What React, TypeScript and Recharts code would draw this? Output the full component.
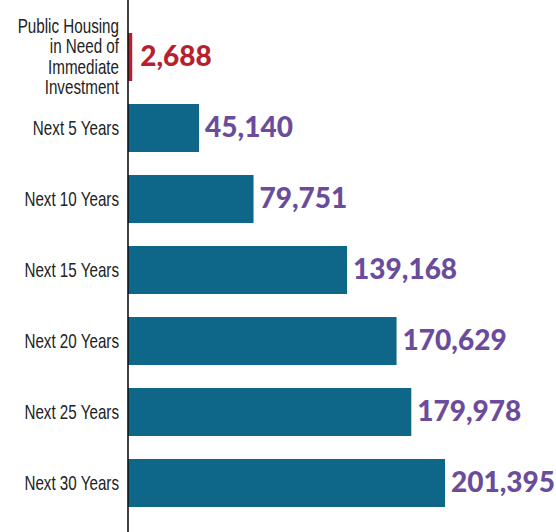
import React from 'react';
import { BarChart, Bar, XAxis, YAxis, Cell, LabelList } from 'recharts';

const categories = [
  'Public Housing in Need of Immediate Investment',
  'Next 5 Years',
  'Next 10 Years',
  'Next 15 Years',
  'Next 20 Years',
  'Next 25 Years',
  'Next 30 Years',
];
const values = [2688, 45140, 79751, 139168, 170629, 179978, 201395];
const tickLines: Record<string, string[]> = {
  'Public Housing in Need of Immediate Investment': ['Public Housing', 'in Need of', 'Immediate', 'Investment'],
};

const data = categories.map((c, i) => ({ name: c, value: values[i] }));

const RED = '#b6202f';
const TEAL = '#0e6688';
const PURPLE = '#6b4c9c';
const TICK_FONT = "'Liberation Sans', Arial, sans-serif";
const LABEL_FONT = "Lato, 'Open Sans', sans-serif";

const Tick = (props: any) => {
  const { y, payload } = props;
  const lines = tickLines[payload.value] || [payload.value];
  const lh = 20.5;
  return (
    <g transform={`translate(119, ${y}) scale(0.76, 1)`}>
      <text x={0} y={0} textAnchor="end" fill="#222" fontFamily={TICK_FONT} fontSize={20}>
        {lines.map((l, i) => (
          <tspan key={i} x={0} dy={i === 0 ? -((lines.length - 1) / 2) * lh + 7 : lh}>
            {l}
          </tspan>
        ))}
      </text>
    </g>
  );
};

const ValueLabel = (props: any) => {
  const { x, y, width, height, value, index } = props;
  const fmt = Number(value).toLocaleString('en-US');
  return (
    <text
      x={x + width + (index === 0 ? 8 : 6)}
      y={y + height / 2}
      dy={9}
      fill={index === 0 ? RED : PURPLE}
      fontFamily={LABEL_FONT}
      fontWeight={900}
      fontSize={28}
    >
      {fmt}
    </text>
  );
};

export default function App() {
  return (
    <div style={{ position: 'absolute', left: 0, top: 0, background: '#fff' }}>
      <BarChart
        width={556}
        height={532}
        data={data}
        layout="vertical"
        margin={{ top: 0, right: 111, bottom: 0, left: 0 }}
      >
        <XAxis type="number" domain={[0, 'dataMax']} hide />
        <YAxis
          type="category"
          dataKey="name"
          width={128}
          axisLine={{ stroke: '#111', strokeWidth: 1.6 }}
          tickLine={false}
          tick={<Tick />}
          interval={0}
          padding={{ top: 21, bottom: 14 }}
        />
        <Bar dataKey="value" barSize={48} isAnimationActive={false}>
          {data.map((d, i) => (
            <Cell key={i} fill={i === 0 ? RED : TEAL} />
          ))}
          <LabelList dataKey="value" content={<ValueLabel />} />
        </Bar>
      </BarChart>
    </div>
  );
}
